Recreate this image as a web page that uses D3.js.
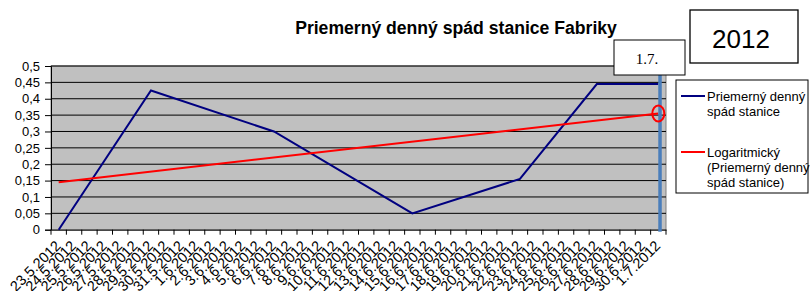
<!DOCTYPE html>
<html><head><meta charset="utf-8">
<script src="https://cdn.jsdelivr.net/npm/d3@7"></script>
<style>body{margin:0;background:#fff}svg{display:block}</style>
</head><body>
<svg id="c" width="810" height="291"></svg>
<script>
const categories = ["23.5.2012","24.5.2012","25.5.2012","26.5.2012","27.5.2012","28.5.2012","29.5.2012","30.5.2012","31.5.2012",
"1.6.2012","2.6.2012","3.6.2012","4.6.2012","5.6.2012","6.6.2012","7.6.2012","8.6.2012","9.6.2012","10.6.2012",
"11.6.2012","12.6.2012","13.6.2012","14.6.2012","15.6.2012","16.6.2012","17.6.2012","18.6.2012","19.6.2012","20.6.2012",
"21.6.2012","22.6.2012","23.6.2012","24.6.2012","25.6.2012","26.6.2012","27.6.2012","28.6.2012","29.6.2012","30.6.2012","1.7.2012"];
// measured values (null = no measurement, line connects known points)
const values = [0,null,null,null,null,null,0.425,null,null,null,null,null,null,null,0.3,null,null,null,null,null,
null,null,null,0.05,null,null,null,null,null,null,0.155,null,null,null,null,0.445,null,null,null,0.445];
// logarithmic trendline, start and end
const trendCats = ["23.5.2012","1.7.2012"];
const trendValues = [0.145,0.355];
const yTicks = [0,0.05,0.1,0.15,0.2,0.25,0.3,0.35,0.4,0.45,0.5];
const title = "Priemerný denný spád stanice Fabriky";
const legendItems = [{lines:["Priemerný denný","spád stanice"],color:"#000080"},
                     {lines:["Logaritmický","(Priemerný denný","spád stanice)"],color:"#ff0000"}];
const markerCat = "1.7.2012", markerLabel = "1.7.", yearLabel = "2012";

const svg = d3.select("#c");
const L=51,R=666,T=66,B=229.7;
const x = d3.scaleBand().domain(categories).range([L,R]).paddingInner(0).paddingOuter(0);
const cx = c => x(c)+x.bandwidth()/2;
const y = d3.scaleLinear().domain([0,0.5]).range([B,T]);
const fmt = v => String(+v.toFixed(2)).replace(".",",");

svg.append("text").attr("x",456).attr("y",34).attr("text-anchor","middle")
  .attr("font-family","Liberation Sans, Arial, sans-serif").attr("font-weight","bold").attr("font-size",17.6).text(title);

svg.append("rect").attr("x",L).attr("y",T).attr("width",R-L).attr("height",B-T).attr("fill","#c0c0c0").attr("stroke","#808080");

svg.append("g").selectAll("line").data(yTicks.slice(1)).join("line")
  .attr("x1",L).attr("x2",R).attr("y1",d=>y(d)).attr("y2",d=>y(d)).attr("stroke","#000").attr("stroke-width",1);

const yAxis = d3.axisLeft(y).tickValues(yTicks).tickFormat(fmt).tickSize(6).tickPadding(5);
const gy = svg.append("g").attr("transform",`translate(${L},0)`).call(yAxis);
gy.select(".domain").attr("stroke","#000");
gy.selectAll("text").attr("font-family","Liberation Sans, Arial, sans-serif").attr("font-size",13).attr("fill","#000");

const xAxis = d3.axisBottom(x).tickSize(0).tickFormat(d=>d);
const gx = svg.append("g").attr("transform",`translate(0,${B})`).call(xAxis);
gx.select(".domain").attr("stroke","#000");
gx.selectAll(".tick text").attr("font-family","Liberation Sans, Arial, sans-serif").attr("font-size",14.5).attr("fill","#000")
  .attr("text-anchor","end").attr("transform","translate(3,17) rotate(-45)").attr("dy","0").attr("y",0).attr("x",0);
// tick marks at category boundaries
svg.append("g").selectAll("line").data(categories.concat(["__end"])).join("line")
  .attr("x1",(d,i)=>i<categories.length?x(d):R).attr("x2",(d,i)=>i<categories.length?x(d):R)
  .attr("y1",B).attr("y2",B+5).attr("stroke","#000");

const pts = categories.map((c,i)=>({c,v:values[i]})).filter(d=>d.v!==null);
svg.append("path").datum(pts).attr("fill","none").attr("stroke","#000080").attr("stroke-width",2)
  .attr("d",d3.line().x(d=>cx(d.c)).y(d=>y(d.v)));

const tpts = trendCats.map((c,i)=>({c,v:trendValues[i]}));
svg.append("path").datum(tpts).attr("fill","none").attr("stroke","#ff0000").attr("stroke-width",2)
  .attr("d",d3.line().x(d=>cx(d.c)).y(d=>y(d.v)));

// marker annotations
const mx = cx(markerCat)+1.7;
svg.append("line").attr("x1",mx).attr("x2",mx).attr("y1",75).attr("y2",B+2).attr("stroke","#4a7ebb").attr("stroke-width",3.5);
svg.append("ellipse").attr("cx",cx(markerCat)).attr("cy",y(trendValues[1])).attr("rx",6).attr("ry",8)
  .attr("fill","none").attr("stroke","#ff0000").attr("stroke-width",2);
svg.append("rect").attr("x",614).attr("y",40).attr("width",71).attr("height",35).attr("fill","#fff").attr("stroke","#000");
svg.append("text").attr("x",647).attr("y",64).attr("text-anchor","middle").attr("font-family","Liberation Serif, Times New Roman, serif")
  .attr("font-size",15).text(markerLabel);
svg.append("rect").attr("x",690).attr("y",10).attr("width",108).attr("height",53).attr("fill","#fff").attr("stroke","#000").attr("stroke-width",1.3);
svg.append("text").attr("x",741).attr("y",48).attr("text-anchor","middle").attr("font-family","Liberation Sans, Arial, sans-serif")
  .attr("font-size",26).text(yearLabel);

// legend
svg.append("rect").attr("x",676).attr("y",80).attr("width",132).attr("height",113).attr("fill","#fff").attr("stroke","#000");
const ly=[96,152];
legendItems.forEach((it,i)=>{
  svg.append("line").attr("x1",681).attr("x2",705).attr("y1",ly[i]).attr("y2",ly[i]).attr("stroke",it.color).attr("stroke-width",2);
  it.lines.forEach((t,j)=>svg.append("text").attr("x",707).attr("y",ly[i]+4.5+j*15)
    .attr("font-family","Liberation Sans, Arial, sans-serif").attr("font-size",13).attr("fill","#000").text(t));
});
</script>
</body></html>
